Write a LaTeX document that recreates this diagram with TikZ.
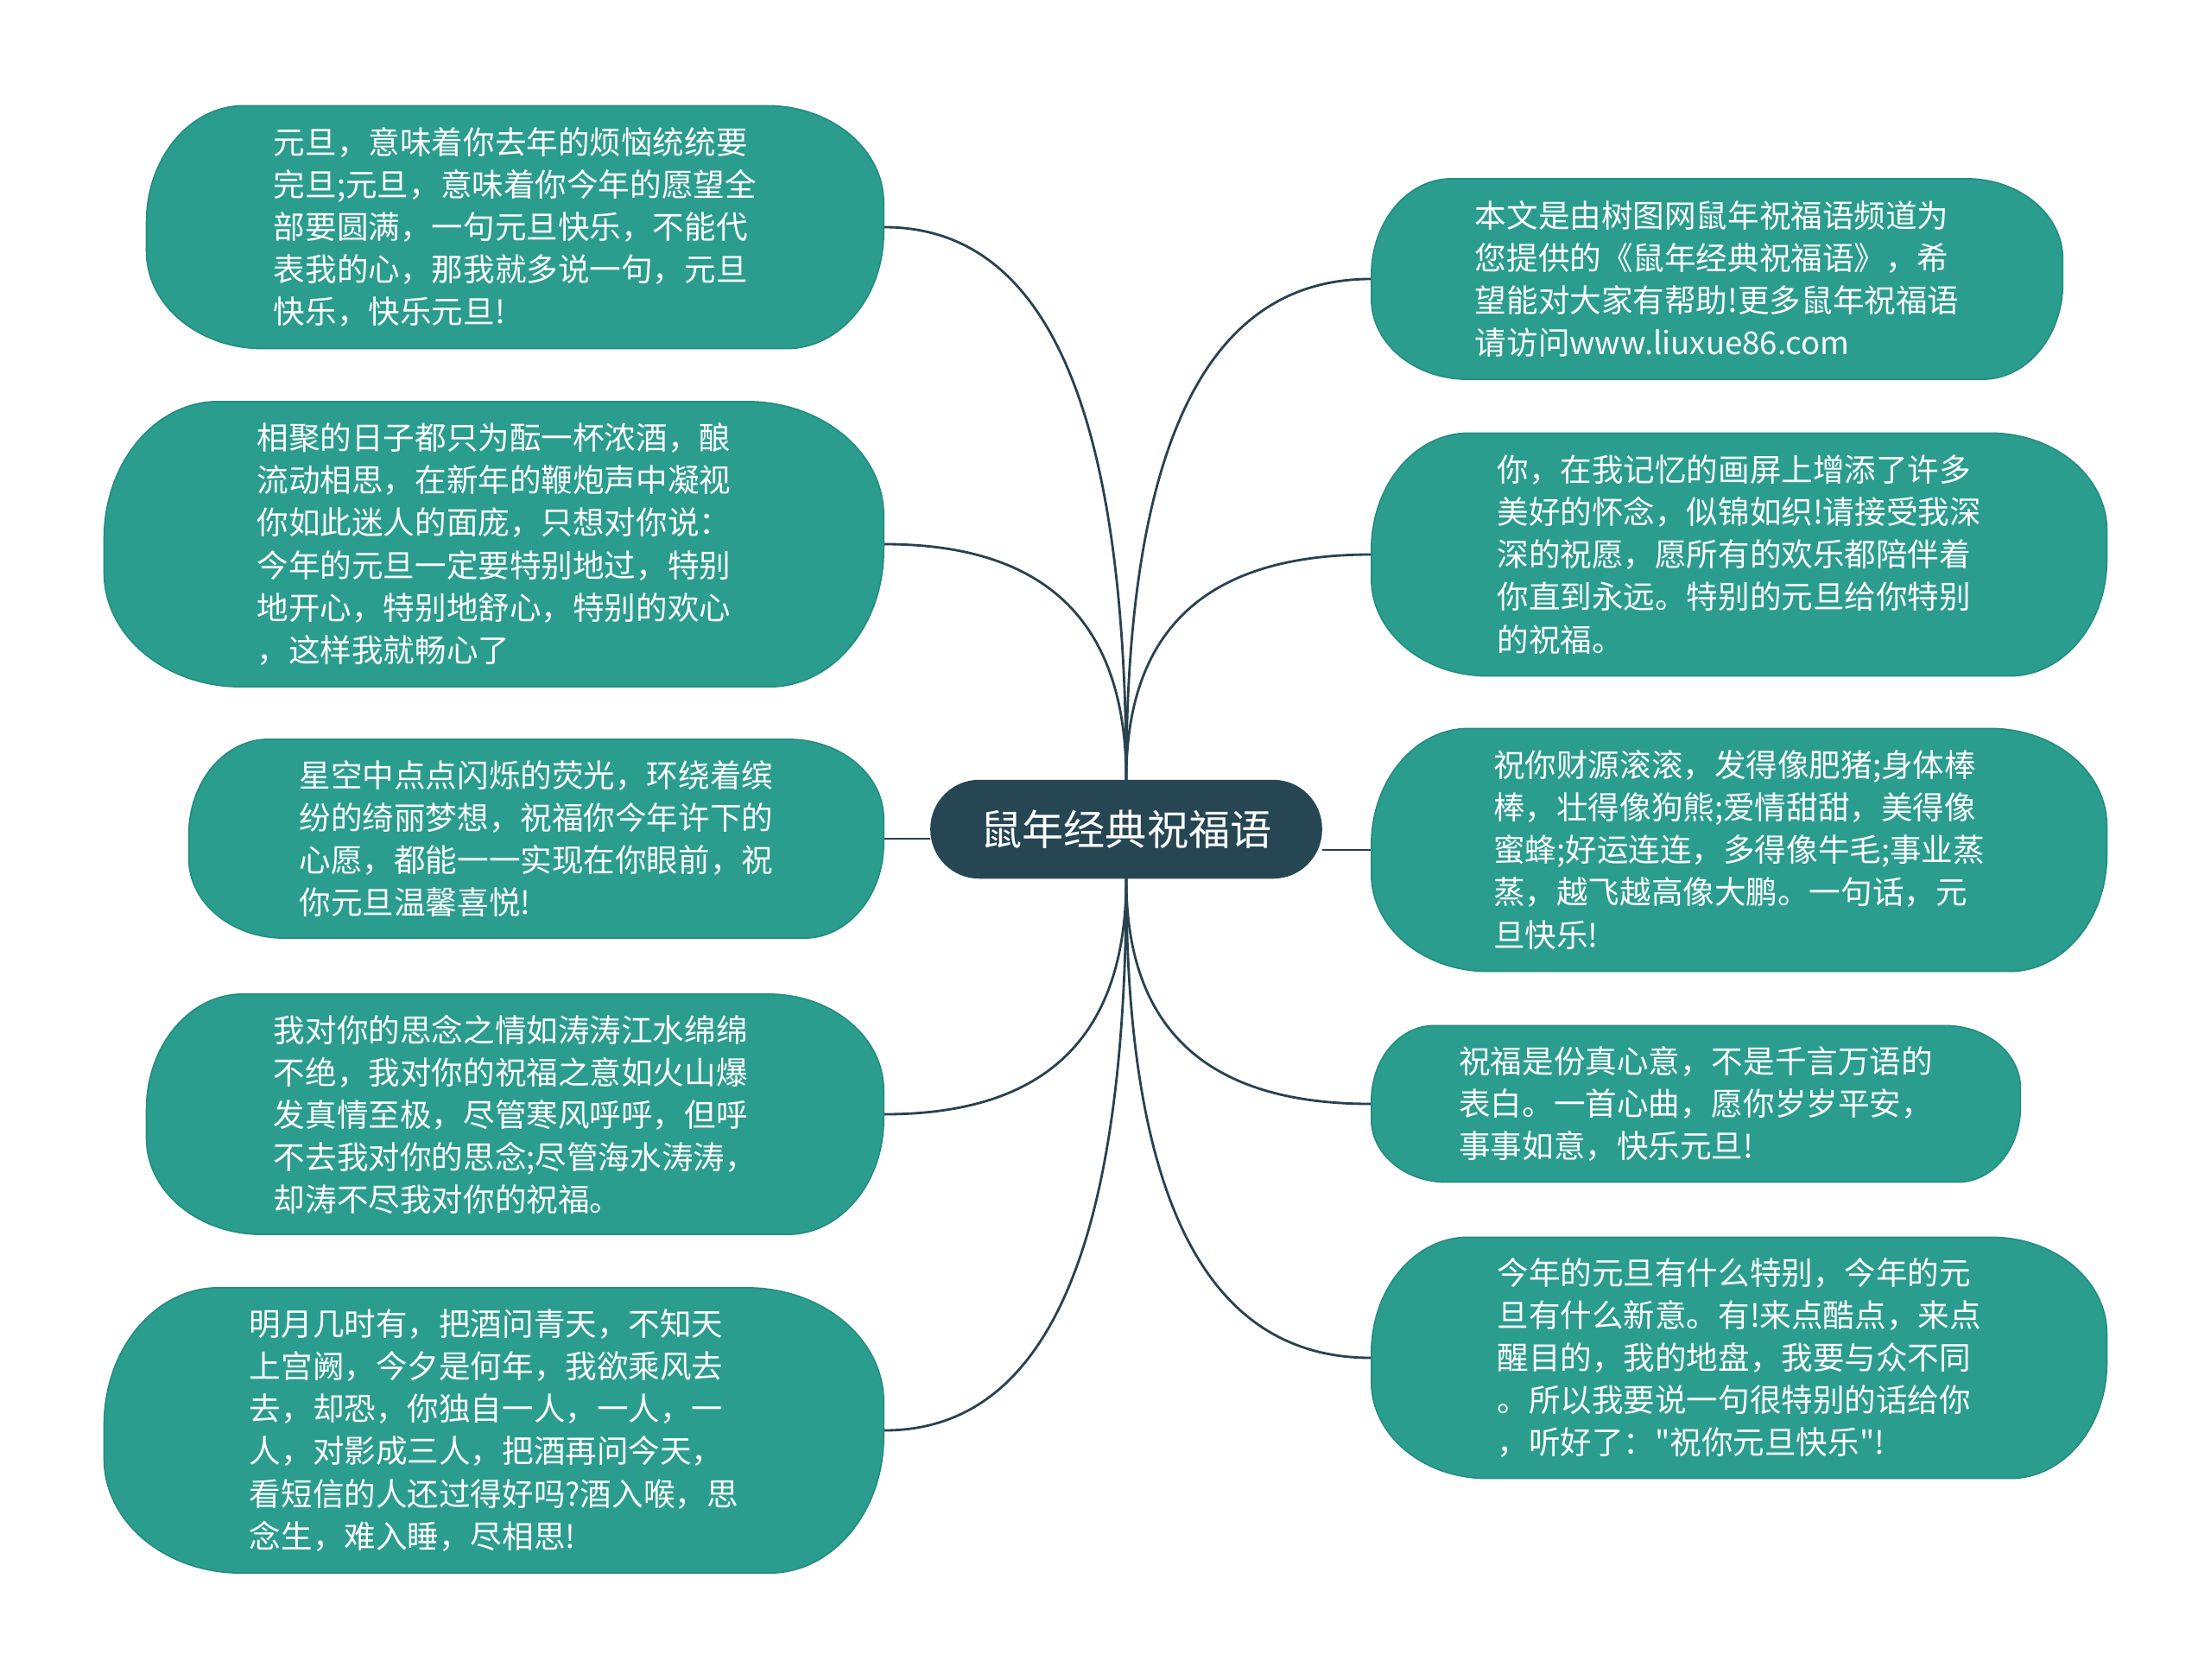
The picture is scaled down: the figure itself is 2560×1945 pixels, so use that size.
\documentclass[tikz,border=0pt]{standalone}
\usepackage{fontspec}
\setmainfont{Noto Sans CJK SC}[Ligatures=TeXOff]
\usepackage{tikz}
\usetikzlibrary{calc,positioning}
\definecolor{leaf}{RGB}{43,157,142}
\definecolor{leafline}{RGB}{36,142,128}
\definecolor{root}{RGB}{38,70,84}
\definecolor{wire}{RGB}{40,66,80}
\tikzset{
  wish/.style 2 args={
    rectangle, fill=leaf, draw=leafline, line width=0.5pt, text=white,
    align=left, inner sep=0pt, minimum width=#1, minimum height=#2,
    /utils/exec={\pgfsetcornersarced{\pgfpoint{0.4*#2}{0.48*#2}}},
    font=\fontsize{10.4}{13.95}\selectfont
  },
  hub/.style={
    rectangle, fill=root, draw=root, text=white, inner sep=0pt,
    minimum width=4.52cm, minimum height=1.13cm, rounded corners=0.56cm,
    font=\fontsize{13.7}{16}\selectfont
  },
  link/.style={draw=wire, line width=0.8pt},
  branch/.style={to path={.. controls ($(\tikztostart)!.67!(\tikztostart |- \tikztotarget)$)
      and ($(\tikztotarget)!.67!(\tikztostart |- \tikztotarget)$) .. (\tikztotarget)}}
}
\begin{document}
\begin{tikzpicture}[x=0.01cm, y=-0.01cm]
\path[fill=white] (0,0) rectangle (2560,1945);
\node[hub] (hub) at (1304,960) {鼠年经典祝福语};
% left side
\node[wish={8.53cm}{2.81cm}, anchor=east] (l1) at (1024,263) {元旦，意味着你去年的烦恼统统要\\完旦;元旦，意味着你今年的愿望全\\部要圆满，一句元旦快乐，不能代\\表我的心，那我就多说一句，元旦\\快乐，快乐元旦!};
\node[wish={9.02cm}{3.30cm}, anchor=east] (l2) at (1024,630) {相聚的日子都只为酝一杯浓酒，酿\\流动相思，在新年的鞭炮声中凝视\\你如此迷人的面庞，只想对你说：\\今年的元旦一定要特别地过，特别\\地开心，特别地舒心，特别的欢心\\，这样我就畅心了};
\node[wish={8.04cm}{2.30cm}, anchor=east] (l3) at (1024,971) {星空中点点闪烁的荧光，环绕着缤\\纷的绮丽梦想，祝福你今年许下的\\心愿，都能一一实现在你眼前，祝\\你元旦温馨喜悦!};
\node[wish={8.53cm}{2.78cm}, anchor=east] (l4) at (1024,1290) {我对你的思念之情如涛涛江水绵绵\\不绝，我对你的祝福之意如火山爆\\发真情至极，尽管寒风呼呼，但呼\\不去我对你的思念;尽管海水涛涛，\\却涛不尽我对你的祝福。};
\node[wish={9.02cm}{3.30cm}, anchor=east] (l5) at (1024,1656) {明月几时有，把酒问青天，不知天\\上宫阙，今夕是何年，我欲乘风去\\去，却恐，你独自一人，一人，一\\人，对影成三人，把酒再问今天，\\看短信的人还过得好吗?酒入喉，思\\念生，难入睡，尽相思!};
% right side
\node[wish={8.00cm}{2.32cm}, anchor=west] (r1) at (1587,323) {本文是由树图网鼠年祝福语频道为\\您提供的《鼠年经典祝福语》，希\\望能对大家有帮助!更多鼠年祝福语\\请访问www.liuxue86.com};
\node[wish={8.51cm}{2.81cm}, anchor=west] (r2) at (1587,642) {你，在我记忆的画屏上增添了许多\\美好的怀念，似锦如织!请接受我深\\深的祝愿，愿所有的欢乐都陪伴着\\你直到永远。特别的元旦给你特别\\的祝福。};
\node[wish={8.51cm}{2.81cm}, anchor=west] (r3) at (1587,984) {祝你财源滚滚，发得像肥猪;身体棒\\棒，壮得像狗熊;爱情甜甜，美得像\\蜜蜂;好运连连，多得像牛毛;事业蒸\\蒸，越飞越高像大鹏。一句话，元\\旦快乐!};
\node[wish={7.51cm}{1.81cm}, anchor=west] (r4) at (1587,1278) {祝福是份真心意，不是千言万语的\\表白。一首心曲，愿你岁岁平安，\\事事如意，快乐元旦!};
\node[wish={8.51cm}{2.79cm}, anchor=west] (r5) at (1587,1572) {今年的元旦有什么特别，今年的元\\旦有什么新意。有!来点酷点，来点\\醒目的，我的地盘，我要与众不同\\。所以我要说一句很特别的话给你\\，听好了："祝你元旦快乐"!};
% connectors
\draw[link] (hub.north) to[branch] (l1.east);
\draw[link] (hub.north) to[branch] (l2.east);
\draw[link] (hub.west |- l3.east) -- (l3.east);
\draw[link] (hub.south) to[branch] (l4.east);
\draw[link] (hub.south) to[branch] (l5.east);
\draw[link] (hub.north) to[branch] (r1.west);
\draw[link] (hub.north) to[branch] (r2.west);
\draw[link] (hub.east |- r3.west) -- (r3.west);
\draw[link] (hub.south) to[branch] (r4.west);
\draw[link] (hub.south) to[branch] (r5.west);
\end{tikzpicture}
\end{document}
